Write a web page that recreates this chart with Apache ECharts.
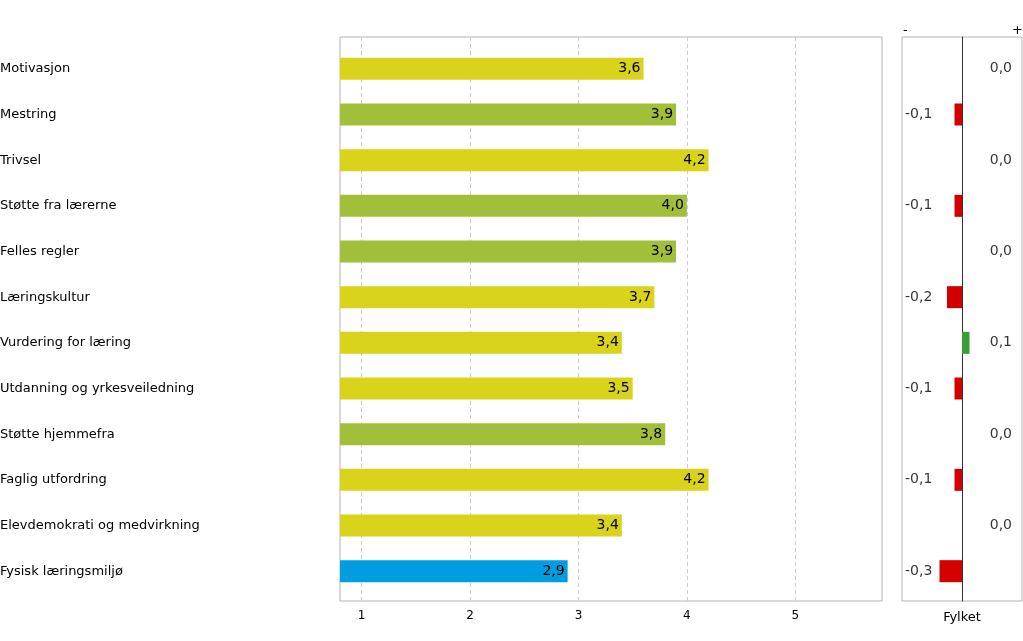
<!DOCTYPE html>
<html><head><meta charset="utf-8">
<script src="https://cdn.jsdelivr.net/npm/echarts@6/dist/echarts.min.js"></script>
<style>html,body{margin:0;padding:0;background:#fff}#c{width:1023px;height:641px}</style>
</head><body><div id="c"></div>
<script>
const categories = ["Motivasjon","Mestring","Trivsel","Støtte fra lærerne","Felles regler","Læringskultur","Vurdering for læring","Utdanning og yrkesveiledning","Støtte hjemmefra","Faglig utfordring","Elevdemokrati og medvirkning","Fysisk læringsmiljø"];
const values = [3.6,3.9,4.2,4.0,3.9,3.7,3.4,3.5,3.8,4.2,3.4,2.9];
const colorGroups = ["y","g","y","g","g","y","y","y","g","y","y","b"];
const diffs = [0.0,-0.1,0.0,-0.1,0.0,-0.2,0.1,-0.1,0.0,-0.1,0.0,-0.3];
const xTicks = [1,2,3,4,5];

const palette = {y:'#d9d41b', g:'#a1bf38', b:'#009ee0'};
const FONT = 'DejaVu Sans';
const fmt = v => v.toFixed(1).replace('.', ',');
const cats = categories.slice().reverse();
const vals = values.slice().reverse();
const grp = colorGroups.slice().reverse();
const dif = diffs.slice().reverse();

const chart = echarts.init(document.getElementById('c'), null, {renderer:'canvas'});
chart.setOption({
  animation:false,
  textStyle:{fontFamily:FONT},
  grid:[
    {left:340, top:37, width:542, height:564, show:true, borderColor:'#b4b4b4', borderWidth:1, backgroundColor:'transparent', outerBoundsMode:'none', containLabel:false},
    {left:340, top:46, width:542, height:548, outerBoundsMode:'none', containLabel:false},
    {left:902, top:37, width:120, height:564, show:true, borderColor:'#b4b4b4', borderWidth:1, backgroundColor:'transparent', outerBoundsMode:'none', containLabel:false},
    {left:902, top:46, width:120, height:548, outerBoundsMode:'none', containLabel:false}
  ],
  xAxis:[
    {gridIndex:0, type:'value', min:0.8, max:5.8,
     axisLine:{show:false}, axisTick:{show:false, customValues:xTicks},
     axisLabel:{customValues:xTicks, color:'#000', fontSize:12, fontFamily:FONT, margin:9},
     splitLine:{show:true, lineStyle:{type:[4,3], color:'#cccccc'}}},
    {gridIndex:1, type:'value', min:0.8, max:5.8, show:false},
    {gridIndex:2, type:'value', min:-0.8, max:0.8,
     axisLine:{show:false}, axisTick:{show:false}, axisLabel:{show:false}, splitLine:{show:false},
     name:'Fylket', nameLocation:'middle', nameGap:10, nameTextStyle:{color:'#000', fontSize:13, fontFamily:FONT}},
    {gridIndex:3, type:'value', min:-0.8, max:0.8, show:false}
  ],
  yAxis:[
    {gridIndex:0, type:'value', min:0, max:1, show:false},
    {gridIndex:1, type:'category', data:cats,
     axisLine:{show:false}, axisTick:{show:false},
     axisLabel:{align:'left', margin:340, color:'#000', fontSize:13, fontFamily:FONT}},
    {gridIndex:2, type:'value', min:0, max:1,
     axisLine:{show:true, onZero:true, lineStyle:{color:'#333', width:1}},
     axisTick:{show:false}, axisLabel:{show:false}, splitLine:{show:false}},
    {gridIndex:3, type:'category', data:cats, show:false}
  ],
  graphic:[
    {type:'text', left:903, top:24, style:{text:'-', fill:'#000', font:'13px "DejaVu Sans"'}},
    {type:'text', left:1012, top:24, style:{text:'+', fill:'#000', font:'13px "DejaVu Sans"'}}
  ],
  series:[
    {type:'bar', xAxisIndex:1, yAxisIndex:1, barWidth:22,
     data: vals.map((v,i)=>({value:v, itemStyle:{color:palette[grp[i]]}})),
     label:{show:true, position:'insideRight', distance:3, color:'#000', fontSize:14, fontFamily:FONT, formatter:p=>fmt(p.value)}},
    {type:'bar', xAxisIndex:3, yAxisIndex:3, barWidth:22,
     data: dif.map(v=>({value:v, itemStyle:{color: v<0 ? '#d40000' : '#3a9c3a'}}))},
    {type:'scatter', xAxisIndex:3, yAxisIndex:3, symbolSize:0, silent:true,
     data: dif.map((v,i)=>({value:[v<0 ? -0.76 : 0.37, i], d:v})),
     label:{show:true, position:'right', distance:0, color:'#000', fontSize:14, fontFamily:FONT,
            formatter:p=>fmt(p.data.d)}}
  ]
});
</script></body></html>
